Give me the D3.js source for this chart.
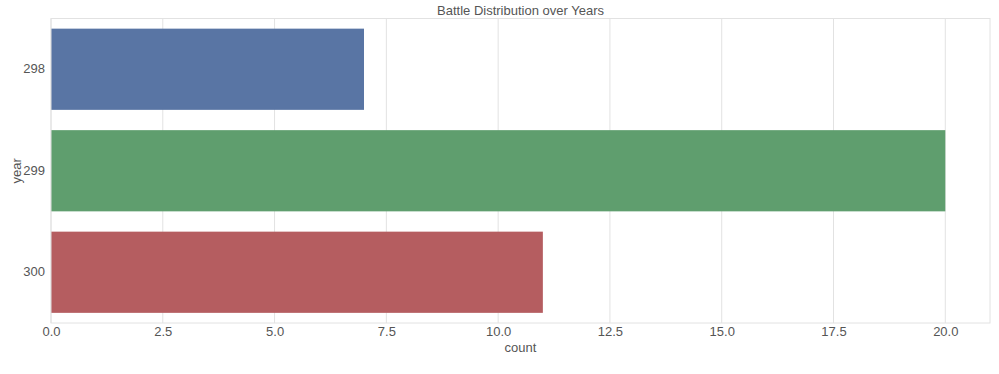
<!DOCTYPE html>
<html><head><meta charset="utf-8">
<script src="https://cdn.jsdelivr.net/npm/d3@7"></script>
<style>body{margin:0;background:#fff}svg{display:block}</style>
</head><body>
<svg id="c" width="999" height="374"></svg>
<script>
const categories = ["298", "299", "300"];
const counts = [7, 20, 11];
const colors = ["#5975a4", "#5f9e6e", "#b55d60"];
const xTicks = [0, 2.5, 5, 7.5, 10, 12.5, 15, 17.5, 20];

const svg = d3.select("#c");
const m = {l: 51, t: 18.5, r: 990, b: 323};
const x = d3.scaleLinear().domain([0, 21]).range([m.l, m.r]);
const y = d3.scaleBand().domain(categories).range([m.t, m.b]).paddingInner(0.2).paddingOuter(0.1);
const font = "'Liberation Sans', Arial, sans-serif";
const txt = "#555";

// grid
svg.append("g").selectAll("line").data(xTicks).join("line")
  .attr("x1", d => x(d)).attr("x2", d => x(d)).attr("y1", m.t).attr("y2", m.b)
  .attr("stroke", "#e2e2e2").attr("stroke-width", 1);

// bars
svg.append("g").selectAll("rect").data(categories).join("rect")
  .attr("x", x(0)).attr("y", d => y(d))
  .attr("width", (d, i) => x(counts[i]) - x(0)).attr("height", y.bandwidth())
  .attr("fill", (d, i) => colors[i]);

// frame
svg.append("rect").attr("x", m.l).attr("y", m.t).attr("width", m.r - m.l).attr("height", m.b - m.t)
  .attr("fill", "none").attr("stroke", "#e2e2e2").attr("stroke-width", 1);

// x axis
const xa = svg.append("g").attr("transform", `translate(0,${m.b})`)
  .call(d3.axisBottom(x).tickValues(xTicks).tickFormat(d3.format(".1f")).tickSize(0).tickPadding(4));
xa.select(".domain").remove();
xa.selectAll("text").attr("font-family", font).attr("font-size", 13).attr("fill", txt);

// y axis
const ya = svg.append("g").attr("transform", `translate(${m.l},0)`)
  .call(d3.axisLeft(y).tickSize(0).tickPadding(6));
ya.select(".domain").remove();
ya.selectAll("text").attr("font-family", font).attr("font-size", 13).attr("fill", txt);

svg.append("text").attr("x", (m.l + m.r) / 2).attr("y", 352).attr("text-anchor", "middle")
  .attr("font-family", font).attr("font-size", 13).attr("fill", txt).text("count");
svg.append("text").attr("transform", `translate(21,${(m.t + m.b) / 2}) rotate(-90)`).attr("text-anchor", "middle")
  .attr("font-family", font).attr("font-size", 13).attr("fill", txt).text("year");
svg.append("text").attr("x", (m.l + m.r) / 2).attr("y", 15).attr("text-anchor", "middle")
  .attr("font-family", font).attr("font-size", 13).attr("fill", txt).text("Battle Distribution over Years");
</script>
</body></html>
